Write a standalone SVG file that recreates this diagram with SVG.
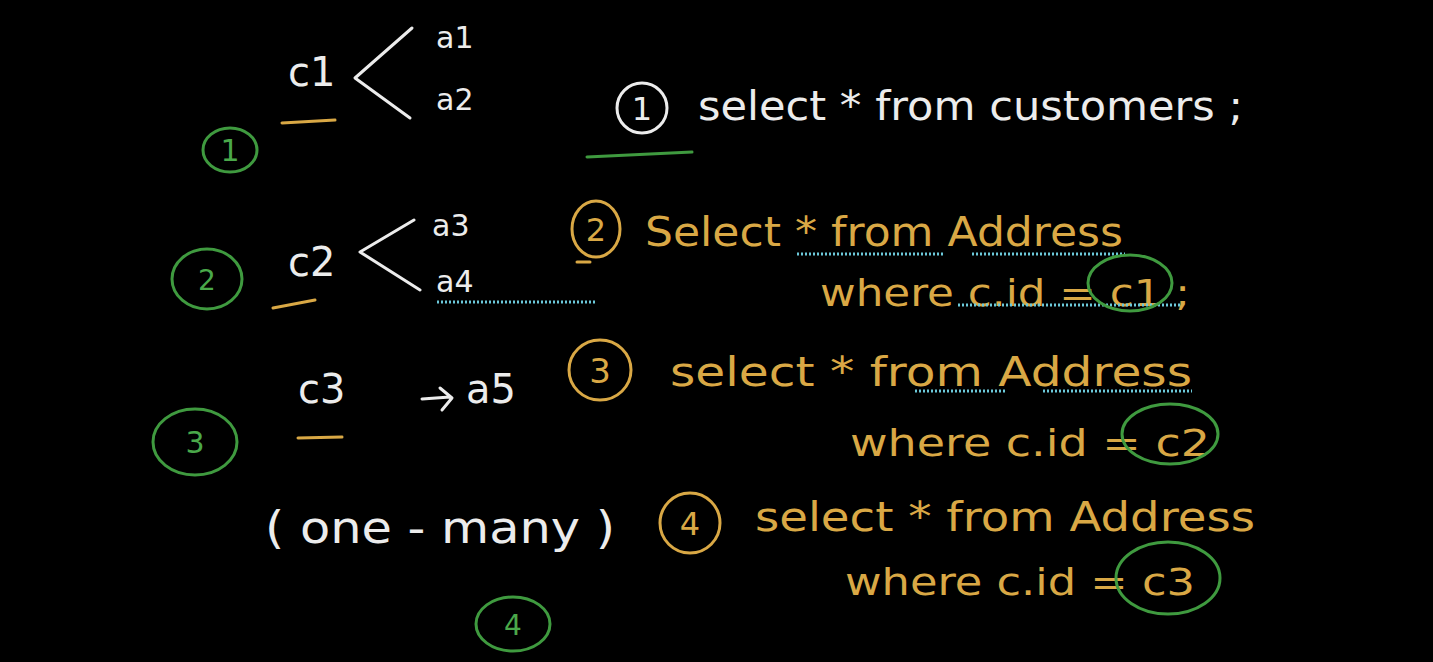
<svg xmlns="http://www.w3.org/2000/svg" width="1433" height="662" viewBox="0 0 1433 662">
<style>
.w{fill:#ececec;font-family:"DejaVu Sans","Liberation Sans",sans-serif}
.y{fill:#d9a845;font-family:"DejaVu Sans","Liberation Sans",sans-serif}
.g{fill:#4aa84a;font-family:"DejaVu Sans","Liberation Sans",sans-serif}
.ws{fill:none;stroke:#ececec;stroke-width:3;stroke-linecap:round;stroke-linejoin:round}
.ys{fill:none;stroke:#d9a845;stroke-width:3;stroke-linecap:round}
.gs{fill:none;stroke:#3f9a3f;stroke-width:3;stroke-linecap:round}
.dot{fill:none;stroke:#6cc9da;stroke-width:3;stroke-dasharray:2 2}
</style>
<rect width="1433" height="662" fill="#000"/>
<g id="left1">
<text class="w" x="288" y="86" font-size="40">c1</text>
<path class="ws" d="M412 28 L355 78 L410 118"/>
<text class="w" x="436" y="48" font-size="30">a1</text>
<text class="w" x="436" y="110" font-size="30">a2</text>
<path class="ys" d="M282 123 L335 120"/>
<ellipse class="gs" cx="230" cy="150" rx="27" ry="22"/>
<text class="g" x="230" y="161" font-size="30" text-anchor="middle">1</text>
</g>
<g id="query1">
<circle class="ws" cx="642" cy="108" r="25"/>
<text class="w" x="642" y="120" font-size="32" text-anchor="middle">1</text>
<text class="w" x="698" y="120" font-size="40" textLength="545" lengthAdjust="spacingAndGlyphs">select * from customers ;</text>
<path class="gs" d="M587 157 L692 152"/>
</g>
<g id="left2">
<ellipse class="gs" cx="207" cy="279" rx="35" ry="30"/>
<text class="g" x="207" y="290" font-size="28" text-anchor="middle">2</text>
<text class="w" x="288" y="276" font-size="40">c2</text>
<path class="ws" d="M414 220 L360 252 L420 290"/>
<text class="w" x="432" y="236" font-size="30">a3</text>
<text class="w" x="436" y="292" font-size="30">a4</text>
<path class="ys" d="M273 308 L315 300"/>
<path class="dot" d="M437 302 L595 302"/>
</g>
<g id="query2">
<ellipse class="ys" cx="596" cy="229" rx="24" ry="28"/>
<text class="y" x="596" y="241" font-size="32" text-anchor="middle">2</text>
<path class="ys" d="M577 262 L590 262"/>
<text class="y" x="645" y="246" font-size="40" textLength="478" lengthAdjust="spacingAndGlyphs">Select * from Address</text>
<path class="dot" d="M797 254 L945 254 M972 254 L1125 254"/>
<text class="y" x="820" y="306" font-size="38" textLength="370" lengthAdjust="spacingAndGlyphs">where c.id = c1 ;</text>
<path class="dot" d="M958 305 L1180 305"/>
<ellipse class="gs" cx="1130" cy="283" rx="42" ry="28"/>
</g>
<g id="left3">
<ellipse class="gs" cx="195" cy="442" rx="42" ry="33"/>
<text class="g" x="195" y="453" font-size="30" text-anchor="middle">3</text>
<text class="w" x="298" y="403" font-size="40">c3</text>
<path class="ws" d="M422 399 L450 397 M440 388 L452 398 L442 410"/>
<text class="w" x="466" y="403" font-size="40">a5</text>
<path class="ys" d="M298 438 L342 437"/>
</g>
<g id="query3">
<ellipse class="ys" cx="600" cy="370" rx="31" ry="30"/>
<text class="y" x="600" y="383" font-size="34" text-anchor="middle">3</text>
<text class="y" x="670" y="386" font-size="40" textLength="522" lengthAdjust="spacingAndGlyphs">select * from Address</text>
<path class="dot" d="M915 391 L1005 391 M1043 391 L1192 391"/>
<text class="y" x="850" y="456" font-size="38" textLength="360" lengthAdjust="spacingAndGlyphs">where c.id = c2</text>
<ellipse class="gs" cx="1170" cy="434" rx="48" ry="30"/>
</g>
<g id="onemany">
<text class="w" x="440" y="543" font-size="44" text-anchor="middle" textLength="350" lengthAdjust="spacingAndGlyphs">( one - many )</text>
<ellipse class="gs" cx="513" cy="624" rx="37" ry="27"/>
<text class="g" x="513" y="635" font-size="28" text-anchor="middle">4</text>
</g>
<g id="query4">
<ellipse class="ys" cx="690" cy="523" rx="30" ry="30"/>
<text class="y" x="690" y="535" font-size="32" text-anchor="middle">4</text>
<text class="y" x="755" y="531" font-size="40" textLength="500" lengthAdjust="spacingAndGlyphs">select * from Address</text>
<text class="y" x="845" y="595" font-size="38" textLength="350" lengthAdjust="spacingAndGlyphs">where c.id = c3</text>
<ellipse class="gs" cx="1168" cy="578" rx="52" ry="36"/>
</g>
</svg>
